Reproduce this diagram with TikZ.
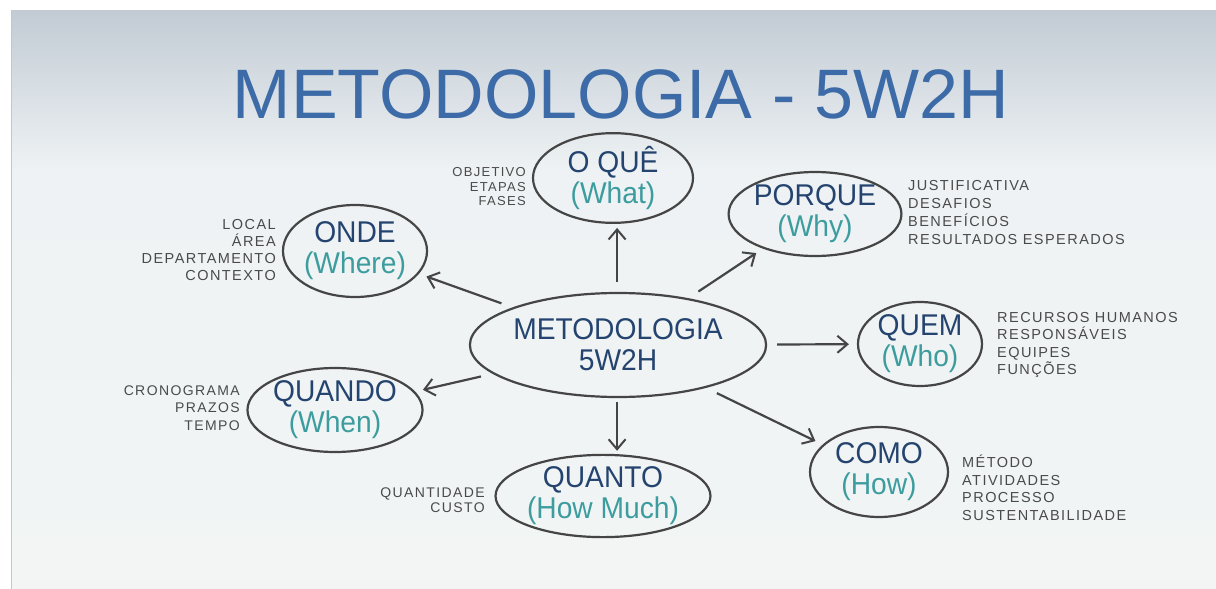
\documentclass[tikz,border=0pt]{standalone}
\usepackage{fontspec}
\setmainfont{Liberation Sans}
\newfontfamily\titlefont{Liberation Sans}
\newfontfamily\nodefont[FakeStretch=0.94]{Liberation Sans}
\newfontfamily\labelfont[LetterSpace=10]{Liberation Sans}
\usetikzlibrary{shapes.geometric,arrows.meta}
\definecolor{titleblue}{HTML}{3C6BA7}
\definecolor{navy}{HTML}{24446F}
\definecolor{tealw}{HTML}{3C9C9E}
\definecolor{ink}{HTML}{454545}
\definecolor{labelgray}{HTML}{4A4A4A}
\definecolor{bgtop}{HTML}{C2CBD4}
\definecolor{bgmid}{HTML}{EEF2F4}
\definecolor{bglow}{HTML}{F2F5F4}
\tikzset{
  bubble/.style={ellipse, draw=ink, line width=2.2pt, inner sep=0pt, align=center,
    text=navy, font=\nodefont\fontsize{30}{31}\selectfont},
  conn/.style={draw=ink, line width=2.2pt, shorten <=12pt, shorten >=8pt,
    -{Straight Barb[length=10pt,width=17pt,line width=2pt]}},
  lbl/.style={text=labelgray, inner sep=0pt},
}
\newcommand{\en}[1]{\textcolor{tealw}{#1}}
\begin{document}
\begin{tikzpicture}[x=1pt,y=-1pt]
\useasboundingbox (0,0) rectangle (1216,589);
\fill[white] (0,0) rectangle (1216,589);
\shade[top color=bgmid, bottom color=bglow] (11,170) rectangle (1216,589);
\shade[top color=bgtop, bottom color=bgmid] (11,10) rectangle (1216,170);
\draw[gray!45, line width=1pt] (11.5,10) -- (11.5,589);

\node[text=titleblue, font=\titlefont\fontsize{70}{70}\selectfont, anchor=base, inner sep=0pt] (title) at (621,118) {METODOLOGIA - 5W2H};

\node[bubble, minimum width=254pt, minimum height=104pt] (c) at (618,345) {METODOLOGIA\\5W2H};
\node[bubble, minimum width=160pt, minimum height=72pt] (oq) at (613,178) {O QUÊ\\\en{(What)}};
\node[bubble, minimum width=156pt, minimum height=84pt] (pq) at (815,214) {PORQUE\\\en{(Why)}};
\node[bubble, minimum width=136pt, minimum height=92pt] (on) at (355,251) {ONDE\\\en{(Where)}};
\node[bubble, minimum width=124pt, minimum height=84pt] (qm) at (920,344) {QUEM\\\en{(Who)}};
\node[bubble, minimum width=168pt, minimum height=84pt] (qd) at (335,410) {QUANDO\\\en{(When)}};
\node[bubble, minimum width=210pt, minimum height=82pt] (qt) at (603,496) {QUANTO\\\en{(How Much)}};
\node[bubble, minimum width=138pt, minimum height=90pt] (cm) at (879,472) {COMO\\\en{(How)}};

\node[lbl, anchor=east, align=right, font=\labelfont\fontsize{13}{14.5}\selectfont] (loq) at (526,187) {OBJETIVO\\ETAPAS\\FASES};
\node[lbl, anchor=east, align=right, font=\labelfont\fontsize{14.5}{16.7}\selectfont] (lon) at (276,250) {LOCAL\\ÁREA\\DEPARTAMENTO\\CONTEXTO};
\node[lbl, anchor=east, align=right, font=\labelfont\fontsize{14}{17.5}\selectfont] (lqd) at (240,408) {CRONOGRAMA\\PRAZOS\\TEMPO};
\node[lbl, anchor=east, align=right, font=\labelfont\fontsize{14}{15.5}\selectfont] (lqt) at (485,500) {QUANTIDADE\\CUSTO};
\node[lbl, anchor=west, align=left, font=\labelfont\fontsize{14.5}{18}\selectfont] (lpq) at (908,213) {JUSTIFICATIVA\\DESAFIOS\\BENEFÍCIOS\\RESULTADOS ESPERADOS};
\node[lbl, anchor=west, align=left, font=\labelfont\fontsize{14.5}{17.5}\selectfont] (lqm) at (997,345) {RECURSOS HUMANOS\\RESPONSÁVEIS\\EQUIPES\\FUNÇÕES};
\node[lbl, anchor=west, align=left, font=\labelfont\fontsize{14.5}{17.5}\selectfont] (lcm) at (962,488) {MÉTODO\\ATIVIDADES\\PROCESSO\\SUSTENTABILIDADE};

\draw[conn, shorten <=10pt, shorten >=4pt] (c.91) -- (c.91 |- oq.south);
\draw[conn] (c) -- (pq);
\draw[conn] (c) -- (on);
\draw[conn, shorten <=10pt] (c) -- (qm);
\draw[conn] (c) -- (qd);
\draw[conn, shorten <=4pt, shorten >=3pt] (c.-91) -- (c.-91 |- qt.north);
\draw[conn] (c) -- (cm);
\end{tikzpicture}
\end{document}
